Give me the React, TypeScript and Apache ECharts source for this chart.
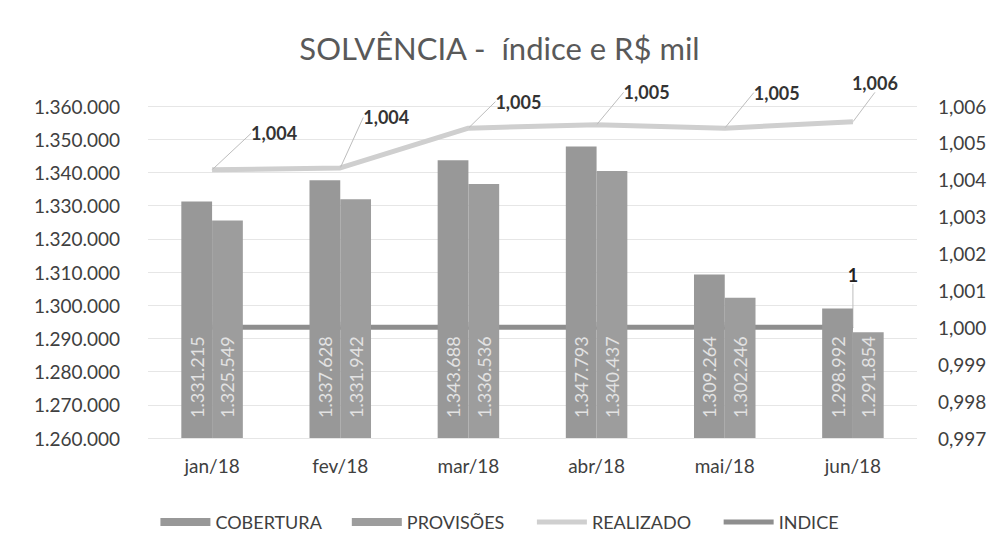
import React, { useEffect, useRef } from "react";
import * as echarts from "echarts";

const categories = ["jan/18", "fev/18", "mar/18", "abr/18", "mai/18", "jun/18"];
const cobertura = [1331215, 1337628, 1343688, 1347793, 1309264, 1298992];
const provisoes = [1325549, 1331942, 1336536, 1340437, 1302246, 1291854];
const realizado = [1.00427, 1.00432, 1.0054, 1.00549, 1.0054, 1.00557];
const indice = [1, 1, 1, 1, 1, 1];
const indiceLabels = ["", "", "", "", "", "1"];

const FONT = "Lato, 'Open Sans', sans-serif";
const fmtThousands = (v: number) =>
  Math.round(v).toString().replace(/\B(?=(\d{3})+(?!\d))/g, ".");
const fmtIdx = (v: number) => v.toFixed(3).replace(".", ",");

const realizadoShift = [
  [62, -22],
  [46, -36],
  [50, -12],
  [50, -18],
  [52, -21],
  [22, -24],
];

export default function App() {
  const ref = useRef<HTMLDivElement>(null);
  useEffect(() => {
    if (!ref.current) return;
    const chart = echarts.init(ref.current, undefined, { renderer: "svg" });
    const barLabel = {
      show: true,
      position: "insideBottom",
      rotate: 90,
      align: "left",
      verticalAlign: "middle",
      distance: 20,
      color: "#e2e2e2",
      fontSize: 18,
      fontFamily: FONT,
      formatter: (p: any) => fmtThousands(p.value),
    };
    chart.setOption({
      animation: false,
      backgroundColor: "#ffffff",
      title: {
        text: "SOLVÊNCIA -  índice e R$ mil",
        left: "center",
        top: 27,
        textStyle: { fontFamily: FONT, fontSize: 31, fontWeight: "normal", color: "#595959" },
      },
      legend: {
        top: 508,
        left: "center",
        itemWidth: 50,
        itemHeight: 8,
        itemGap: 30,
        textStyle: { fontFamily: FONT, fontSize: 18, color: "#404040" },
        data: [
          { name: "COBERTURA", icon: "rect" },
          { name: "PROVISÕES", icon: "rect" },
          { name: "REALIZADO", itemStyle: { opacity: 0 }, lineStyle: { width: 5 } },
          { name: "INDICE", itemStyle: { opacity: 0 }, lineStyle: { width: 5 } },
        ],
      },
      grid: { left: 148, right: 82, top: 106, bottom: 109 },
      xAxis: {
        type: "category",
        data: categories,
        axisLine: { show: false },
        axisTick: { show: false },
        axisLabel: { fontFamily: FONT, fontSize: 19, color: "#404040", margin: 18 },
      },
      yAxis: [
        {
          type: "value",
          min: 1260000,
          max: 1360000,
          interval: 10000,
          axisLine: { show: false },
          axisTick: { show: false },
          splitLine: { lineStyle: { color: "#e6e6e6", width: 1 } },
          axisLabel: {
            fontFamily: FONT,
            fontSize: 19,
            color: "#404040",
            margin: 28,
            formatter: (v: number) => fmtThousands(v),
          },
        },
        {
          type: "value",
          min: 0.997,
          max: 1.006,
          interval: 0.001,
          axisLine: { show: false },
          axisTick: { show: false },
          splitLine: { show: false },
          axisLabel: {
            fontFamily: FONT,
            fontSize: 19,
            color: "#404040",
            margin: 21,
            formatter: (v: number) => fmtIdx(v),
          },
        },
      ],
      series: [
        {
          name: "INDICE",
          type: "line",
          yAxisIndex: 1,
          z: 1,
          data: indice,
          symbol: "circle",
          symbolSize: 1,
          showSymbol: true,
          lineStyle: { color: "#8e8e8e", width: 5 },
          itemStyle: { color: "#8e8e8e" },
          label: {
            show: true,
            position: "top",
            fontFamily: FONT,
            fontSize: 18,
            fontWeight: "bold",
            color: "#222",
            formatter: (p: any) => indiceLabels[p.dataIndex],
          },
          labelLine: { show: true, lineStyle: { color: "#bdbdbd", width: 1 } },
          labelLayout: (p: any) => (p.dataIndex === 5 ? { dx: 0, dy: -38 } : {}),
        },
        {
          name: "COBERTURA",
          type: "bar",
          z: 2,
          data: cobertura,
          barGap: "0%",
          barCategoryGap: "52%",
          itemStyle: { color: "#989898" },
          label: barLabel,
        },
        {
          name: "PROVISÕES",
          type: "bar",
          z: 2,
          data: provisoes,
          itemStyle: { color: "#9d9d9d" },
          label: barLabel,
        },
        {
          name: "REALIZADO",
          type: "line",
          yAxisIndex: 1,
          z: 3,
          data: realizado,
          symbol: "circle",
          symbolSize: 1,
          showSymbol: true,
          lineStyle: { color: "#cfcfcf", width: 5 },
          itemStyle: { color: "#cfcfcf" },
          label: {
            show: true,
            position: "top",
            fontFamily: FONT,
            fontSize: 18,
            fontWeight: "bold",
            color: "#333",
            formatter: (p: any) => fmtIdx(p.value),
          },
          labelLine: { show: true, lineStyle: { color: "#bdbdbd", width: 1 } },
          labelLayout: (p: any) => {
            const s = realizadoShift[p.dataIndex] || [0, 0];
            return { dx: s[0], dy: s[1] };
          },
        },
      ],
    });
    return () => chart.dispose();
  }, []);
  return (
    <div
      ref={ref}
      style={{ position: "fixed", left: 0, top: 0, width: 999, height: 547, background: "#fff" }}
    />
  );
}
